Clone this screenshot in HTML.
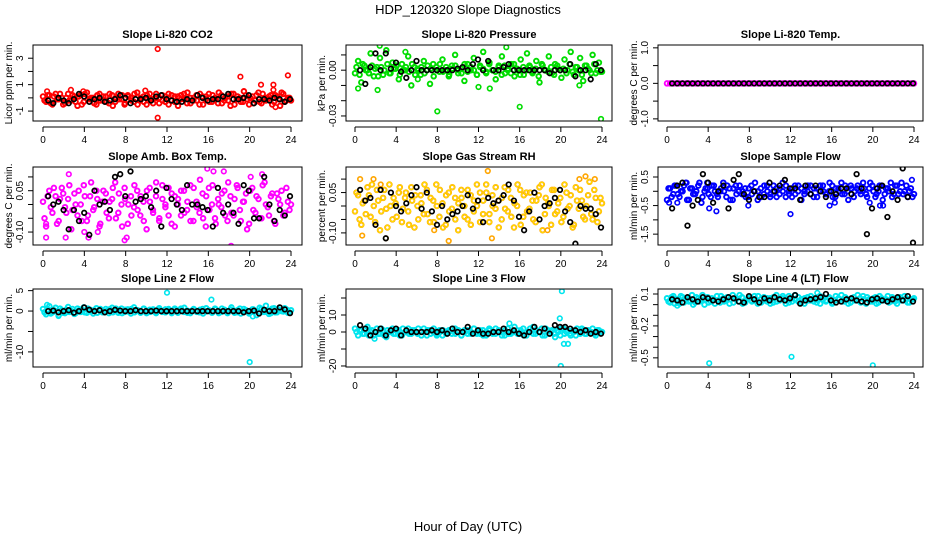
<!DOCTYPE html>
<html><head><meta charset="utf-8">
<style>
html,body{margin:0;padding:0;background:#fff;}
svg{display:block;font-family:"Liberation Sans",Arial,sans-serif;}
</style></head>
<body>
<svg id="chart" width="936" height="540" viewBox="0 0 936 540" xmlns="http://www.w3.org/2000/svg">
<text x="468" y="14" text-anchor="middle" font-size="13">HDP_120320  Slope Diagnostics</text>
<text x="468" y="531" text-anchor="middle" font-size="13">Hour of Day (UTC)</text>
</svg>
<script>
const xTicks=[0,4,8,12,16,20,24];
const co2Red=[0.1,-0.3,0.2,-0.5,0.3,-0.1,0.0,-0.4,0.3,-0.2,0.1,-0.6,0.2,-0.3,0.4,-0.1,0.0,-0.5,0.3,-0.2,0.1,-0.4,0.2,-0.3,0.3,-0.1,-0.5,0.2,0.0,-0.3,0.4,-0.2,0.1,-0.5,0.3,-0.1,0.0,-0.4,0.2,-0.3,0.3,-0.2,0.1,-0.6,0.2,-0.1,0.4,-0.4,0.0,-0.2,0.3,-0.5,0.1,-0.3,0.2,-0.1,0.4,-0.4,0.0,-0.2,0.3,-0.5,0.1,-0.3,0.5,-0.1,0.0,-0.4,0.2,-0.3,0.3,-0.2,0.1,-0.5,0.2,-0.1,0.4,-0.3,0.0,-0.2];
const co2Red2=[-0.2,0.2,-0.4,0.1,-0.1,0.3,-0.5,0.0,-0.2,0.2,-0.3,0.1,-0.5,0.3,-0.1,0.0,-0.4,0.2,-0.2,0.1,-0.3,0.3,-0.6,0.0,-0.1,0.2,-0.4,0.1,-0.2,0.3,-0.5,0.0,-0.3,0.2,-0.1,-0.4,0.3,0.0,-0.2,0.1,-0.5,0.2,-0.3,0.1,-0.1,0.3,-0.4,0.0,-0.2,0.2,-0.5,0.1,-0.1,0.3,-0.3,0.0,-0.4,0.2,-0.2,0.1,-0.6,0.3,-0.1,0.0,-0.3,0.2,-0.5,0.1,-0.2,0.4,-0.4,0.0,-0.1,0.2,-0.3,0.1,-0.6,0.3,-0.2,0.0];
const co2OutHours=[11.1,11.1,19.1,21.1,22.3,22.3,23.7,2.7,9.9,0.4,3.9,22.5];
const co2OutValues=[3.7,-1.5,1.6,1.0,1.0,0.6,1.7,0.6,0.55,0.5,0.5,-0.7];
const co2Black=[-0.2,-0.4,0.0,-0.2,-0.4,-0.1,0.3,0.1,-0.3,-0.1,0.0,-0.3,-0.2,-0.1,0.2,0.0,-0.4,-0.1,-0.1,0.0,-0.2,0.1,0.2,-0.1,-0.2,-0.3,-0.3,-0.1,-0.2,0.2,0.0,-0.2,-0.1,-0.1,0.1,0.3,-0.1,-0.1,0.0,0.2,-0.4,-0.1,-0.1,-0.2,0.0,-0.1,-0.3,-0.1];
const presGreen=[-0.002,0.006,-0.008,0.003,0.000,0.011,-0.004,0.002,0.008,-0.003,0.013,-0.002,0.005,0.001,-0.006,0.004,0.000,0.009,-0.010,0.002,0.001,-0.003,0.006,0.000,-0.009,0.004,0.002,-0.001,0.007,0.000,-0.004,0.003,0.010,-0.002,0.001,-0.007,0.004,0.000,0.008,-0.003,0.002,0.012,-0.001,0.005,0.000,-0.006,0.003,0.009,-0.002,0.001,0.004,-0.004,0.000,0.007,-0.003,0.011,0.002,-0.001,0.006,-0.008,0.003,0.000,0.009,-0.002,0.004,0.001,-0.005,0.007,0.000,0.012,-0.003,0.002,0.008,-0.007,0.003,0.000,0.010,-0.002,0.005,-0.001];
const presGreen2=[0.002,-0.003,0.004,0.000,-0.002,0.003,0.001,-0.004,0.002,0.000,0.004,-0.002,0.001,0.003,-0.003,0.000,0.002,-0.001,0.004,-0.003,0.000,0.002,-0.002,0.003,0.001,-0.004,0.000,0.004,-0.001,0.002,-0.003,0.001,0.003,0.000,-0.002,0.004,-0.001,0.002,0.000,-0.003,0.003,0.001,-0.002,0.004,0.000,-0.001,0.002,-0.003,0.003,0.000,-0.002,0.004,0.001,-0.003,0.002,0.000,0.003,-0.002,0.001,-0.004,0.004,0.000,-0.001,0.002,-0.003,0.003,0.000,0.001,-0.002,0.004,-0.001,0.002,0.000,-0.003,0.003,0.001,-0.002,0.004,0.000,-0.001];
const presOutHours=[8.0,16.0,23.9,2.2,0.3,14.7,2.4,4.9,21.8,6.1,12.0,13.1];
const presOutValues=[-0.027,-0.024,-0.032,-0.013,-0.012,0.015,0.016,0.012,-0.010,-0.006,-0.011,-0.012];
const presBlack=[0.000,-0.009,0.002,0.011,0.000,0.011,0.001,0.005,-0.001,-0.005,0.000,0.006,0.000,0.000,0.000,0.000,0.000,0.000,0.000,0.001,0.002,0.000,0.004,0.007,0.000,0.006,0.000,0.000,0.002,0.004,0.000,0.000,0.000,0.000,0.000,0.000,0.000,-0.002,0.000,0.000,0.000,0.004,-0.004,0.000,0.000,-0.006,0.004,0.000];
const tempMagenta=[0,0,0,0,0,0,0,0,0,0,0,0,0,0,0,0,0,0,0,0,0,0,0,0,0,0,0,0,0,0,0,0,0,0,0,0,0,0,0,0,0,0,0,0,0,0,0,0,0,0,0,0,0,0,0,0,0,0,0,0,0,0,0,0,0,0,0,0,0,0,0,0,0,0,0,0,0,0,0,0];
const tempBlack=[0,0,0,0,0,0,0,0,0,0,0,0,0,0,0,0,0,0,0,0,0,0,0,0,0,0,0,0,0,0,0,0,0,0,0,0,0,0,0,0,0,0,0,0,0,0,0,0];
const ambMagenta=[0.01,-0.08,0.05,-0.03,0.03,-0.06,0.06,-0.01,0.02,-0.09,0.04,-0.04,0.00,0.07,-0.06,0.03,-0.02,0.05,-0.08,0.01,0.04,-0.05,0.02,0.08,-0.03,0.00,0.06,-0.07,0.03,-0.01,0.05,-0.04,0.01,-0.09,0.06,-0.02,0.03,-0.06,0.07,0.00,-0.04,0.04,-0.08,0.02,0.05,-0.03,0.01,-0.06,0.06,-0.01,0.09,-0.05,0.03,-0.02,0.07,-0.07,0.00,0.04,-0.04,0.08,-0.03,0.02,0.06,-0.06,0.01,-0.09,0.05,-0.02,0.03,-0.05,0.07,0.00,-0.04,0.04,-0.07,0.02,0.05,-0.03,0.01,0.00];
const ambMagenta2=[-0.05,0.03,-0.01,0.06,-0.07,0.02,0.04,-0.03,0.07,-0.02,0.00,0.05,-0.06,0.03,-0.04,0.08,-0.01,0.02,-0.07,0.05,-0.03,0.01,0.06,-0.05,0.04,-0.08,0.02,0.00,-0.04,0.07,-0.02,0.03,-0.06,0.05,0.01,-0.03,0.08,-0.05,0.02,-0.01,0.06,-0.07,0.03,0.00,-0.04,0.05,-0.02,0.07,-0.06,0.01,-0.03,0.04,-0.08,0.06,0.00,-0.05,0.02,-0.01,0.05,-0.06,0.03,-0.04,0.07,-0.02,0.01,0.04,-0.07,0.06,-0.03,0.02,-0.05,0.08,-0.01,0.03,-0.06,0.04,0.00,-0.04,0.06,-0.02];
const ambOutHours=[0.3,2.5,4.4,0.3,2.2,7.9,8.1,15.9,16.5,17.5,18.2,21.2,20.1,4.0,5.3];
const ambOutValues=[-0.12,0.11,-0.12,-0.07,-0.12,-0.13,-0.12,0.13,0.12,0.12,-0.15,0.11,0.10,-0.10,-0.10];
const ambBlack=[0.03,0.00,0.01,-0.02,-0.09,-0.02,-0.06,-0.03,-0.11,0.05,0.00,0.01,-0.02,0.10,0.11,0.03,0.12,0.01,0.02,0.03,-0.01,0.05,-0.08,0.06,0.02,0.00,-0.02,0.07,0.00,0.00,-0.01,-0.02,-0.08,0.06,-0.03,0.00,-0.03,-0.07,0.07,0.05,-0.05,-0.05,0.10,0.00,-0.06,-0.02,-0.04,0.03];
const rhOrange=[-0.02,0.04,-0.07,0.02,0.07,-0.04,0.00,0.06,-0.09,0.03,-0.01,0.08,-0.05,0.01,0.05,-0.06,0.03,-0.02,0.07,-0.08,0.00,0.04,-0.03,0.06,-0.06,0.02,0.08,-0.04,0.01,-0.07,0.05,-0.01,0.03,-0.09,0.06,0.00,-0.05,0.04,-0.02,0.08,-0.06,0.02,0.05,-0.03,0.00,0.07,-0.08,0.03,-0.01,0.06,-0.04,0.01,0.08,-0.07,0.04,-0.02,0.05,-0.05,0.02,0.07,-0.09,0.03,0.00,0.06,-0.03,0.01,-0.06,0.08,-0.01,0.04,-0.07,0.02,0.06,-0.04,0.00,0.09,-0.05,0.03,-0.02,0.01];
const rhOrange2=[0.05,-0.05,0.01,-0.03,0.04,0.08,-0.06,0.02,-0.02,0.06,-0.08,0.00,0.03,-0.04,0.07,-0.01,0.05,-0.07,0.02,0.04,-0.05,0.01,0.08,-0.03,0.03,-0.06,0.00,0.06,-0.08,0.04,-0.02,0.07,-0.05,0.01,0.03,-0.04,0.06,-0.07,0.02,0.00,0.05,-0.03,0.08,-0.06,0.04,-0.01,0.02,-0.05,0.07,-0.02,0.03,-0.08,0.00,0.06,-0.04,0.05,-0.01,0.02,-0.06,0.04,0.08,-0.03,0.01,-0.07,0.06,-0.02,0.03,-0.04,0.05,0.00,-0.08,0.07,-0.01,0.02,-0.05,0.04,-0.03,0.06,-0.06,0.03];
const rhOutHours=[0.5,0.7,1.8,2.5,12.9,13.3,9.1,22.4,23.3,3.0,7.7,18.7,21.8];
const rhOutValues=[0.10,-0.11,0.10,0.08,0.13,-0.12,-0.13,0.11,0.10,-0.12,-0.09,-0.09,0.10];
const rhBlack=[0.06,0.02,0.03,-0.07,0.06,-0.12,0.05,0.00,-0.02,0.01,0.04,0.07,-0.01,0.05,-0.02,-0.07,0.00,-0.05,-0.03,-0.02,0.00,0.04,-0.01,0.02,-0.06,0.03,0.01,0.02,0.04,0.08,0.02,-0.04,-0.09,-0.02,0.05,-0.05,0.00,0.01,0.03,0.06,-0.02,-0.06,-0.14,0.00,-0.01,-0.01,-0.03,-0.08];
const flowBlue=[-0.3,0.1,-0.1,0.2,-0.2,0.0,0.3,-0.3,0.1,-0.1,0.2,-0.4,0.0,0.1,-0.2,0.2,-0.1,0.0,0.3,-0.2,0.1,-0.3,0.2,0.0,-0.1,0.1,-0.2,0.2,0.0,-0.3,0.1,-0.1,0.2,-0.2,0.0,0.1,-0.1,0.3,-0.2,0.0,0.1,-0.1,0.2,-0.3,0.0,0.2,-0.1,0.1,-0.2,0.2,0.0,-0.1,0.3,-0.2,0.1,0.0,-0.1,0.2,-0.3,0.1,0.0,0.2,-0.1,0.1,-0.2,0.3,0.0,-0.1,0.2,-0.3,0.1,0.0,-0.2,0.2,-0.1,0.3,0.0,-0.2,0.1,-0.1];
const flowBlue2=[0.1,-0.2,0.2,-0.1,0.0,0.2,-0.3,0.1,-0.1,0.0,0.3,-0.2,0.1,-0.1,0.2,0.0,-0.2,0.1,0.0,0.2,-0.3,0.1,-0.1,0.2,0.0,-0.2,0.1,-0.1,0.3,0.0,-0.2,0.2,0.0,-0.1,0.2,-0.2,0.1,0.0,0.2,-0.1,-0.2,0.2,0.0,0.1,-0.1,0.0,0.2,-0.2,0.1,0.0,0.2,-0.1,0.0,0.2,-0.2,0.1,0.3,-0.1,0.0,0.2,-0.2,0.1,0.0,0.3,-0.1,0.1,0.2,-0.2,0.0,0.2,-0.1,0.1,0.3,-0.1,0.2,0.0,-0.1,0.2,0.0,-0.2];
const flowOutHours=[1.0,1.9,4.1,4.8,7.9,12.0,15.8,16.3,19.7,20.7,21.0,0.2,23.8,3.9];
const flowOutValues=[-0.4,0.3,-0.6,-0.7,-0.5,-0.8,-0.5,-0.4,-0.4,-0.5,-0.5,-0.4,0.4,0.3];
const flowBlack=[-0.6,0.2,0.3,-1.2,-0.5,-0.3,0.6,0.3,-0.4,0.0,0.2,-0.6,0.4,0.6,-0.1,-0.3,0.0,-0.2,-0.2,0.3,0.0,0.2,0.4,0.1,0.1,-0.3,0.2,-0.1,0.2,0.0,-0.2,0.0,-0.1,0.1,0.1,-0.1,0.6,0.1,-1.5,-0.6,0.1,0.2,-0.9,0.0,-0.3,0.8,-0.2,-1.8];
const l2Cyan=[0.5,-0.8,1.2,-0.3,0.8,-1.0,0.2,-0.5,1.0,0.0,-0.7,0.6,-0.2,0.9,-0.4,0.3,-0.6,0.7,0.1,-0.3,0.5,-0.5,0.8,0.0,-0.4,0.6,-0.2,0.4,-0.6,0.9,0.1,-0.3,0.5,-0.5,0.3,0.0,-0.4,0.7,-0.2,0.4,0.1,-0.5,0.6,-0.3,0.2,0.8,-0.4,0.0,0.5,-0.2,0.3,-0.6,0.7,0.0,-0.3,0.4,-0.5,0.6,0.1,-0.2,0.9,-0.4,0.2,-0.6,0.5,0.0,-0.3,0.4,-1.0,0.8,-0.2,1.3,-0.7,0.6,-0.3,0.4,0.0,0.7,-0.4,0.2];
const l2Cyan2=[-0.3,0.4,-0.6,0.2,-0.1,0.6,-0.4,0.3,-0.2,0.5,-0.5,0.1,0.4,-0.3,0.6,-0.1,0.2,-0.4,0.5,-0.2,0.0,0.4,-0.3,0.6,0.1,-0.5,0.3,-0.1,0.5,-0.3,0.2,-0.4,0.6,0.0,-0.2,0.4,-0.5,0.2,0.0,-0.3,0.5,-0.1,0.3,-0.4,0.6,-0.2,0.1,-0.5,0.4,0.0,-0.3,0.5,-0.1,0.2,-0.4,0.6,0.0,-0.2,0.3,-0.5,0.4,0.1,-0.3,0.6,-0.1,0.2,-0.6,0.4,0.0,-0.4,0.5,-0.2,0.1,-0.5,0.7,-0.3,0.2,-0.1,0.4,-0.3];
const l2OutHours=[12.0,20.0,16.3,0.4,20.3,1.5];
const l2OutValues=[4.5,-12.5,2.8,1.5,-1.3,-1.2];
const l2Black=[0,0.1,-0.3,0,0.2,-0.4,0,0.9,0.3,0,0.2,-0.3,0,0.3,0.1,0,0,0.2,0,0,0,0.1,0,0,0,0,0,0,0,0,0,0,0,0,0,0,0,0,-0.3,0,0.1,-0.6,0.3,0,0,0.9,0.4,-0.5];
const l3Cyan=[2,-2,1,-1,3,0,-2,2,-1,1,-3,0,2,-1,1,-2,0,2,-1,1,-1,0,2,-2,1,0,-1,1,-2,0,1,-1,2,0,-2,1,-1,0,2,-1,1,-2,0,1,-1,2,0,-2,1,-1,0,3,-1,1,-2,0,2,-1,1,0,-2,2,-1,1,-3,0,2,-1,1,-2,0,2,-1,1,-1,0,2,-2,1,0];
const l3Cyan2=[0,1,-1,2,-2,1,0,-1,2,-2,1,0,-1,1,-2,2,0,-1,1,0,2,-2,0,1,-1,2,-2,0,1,-1,0,2,-1,1,-2,0,1,-1,2,0,-1,1,-2,2,0,-1,1,0,-2,2,-1,0,1,-1,2,-2,0,1,-1,0,2,-2,1,0,-1,1,-2,2,0,-1,1,-2,0,2,-1,1,0,-1,1,0];
const l3OutHours=[20.1,20.0,19.9,20.3,20.7,15.0,1.9,17.3];
const l3OutValues=[24,-20,8,-7,-7,5,-4,3];
const l3Black=[4,2,-2,0,2,-2,1,2,-2,1,0,0,0,0,1,0,1,-1,2,0,0,3,-1,1,-1,-1,0,0,2,0,1,-1,-2,0,3,0,2,-1,4,3,3,2,1,0,1,-1,0,-1];
const l4Cyan=[0.06,0.02,0.08,0.04,0.01,0.07,0.05,0.03,0.09,0.02,0.06,0.04,0.00,0.07,0.03,0.05,0.08,0.02,0.06,0.04,0.01,0.09,0.05,0.03,0.07,0.02,0.06,0.04,0.08,0.01,0.05,0.07,0.03,0.06,0.02,0.09,0.04,0.06,0.01,0.08,0.03,0.05,0.07,0.02,0.06,0.04,0.08,0.03,0.05,0.01,0.07,0.04,0.06,0.02,0.08,0.05,0.03,0.07,0.01,0.06,0.04,0.09,0.02,0.05,0.07,0.03,0.06,0.01,0.08,0.04,0.05,0.02,0.07,0.03,0.06,0.04,0.08,0.02,0.05,0.06];
const l4Cyan2=[0.03,0.07,0.01,0.05,0.08,0.02,0.06,0.04,0.00,0.07,0.03,0.09,0.05,0.02,0.06,0.01,0.04,0.08,0.03,0.07,0.05,0.02,0.06,0.09,0.01,0.04,0.07,0.03,0.05,0.08,0.02,0.04,0.06,0.01,0.07,0.03,0.05,0.08,0.04,0.02,0.06,0.09,0.03,0.05,0.01,0.07,0.04,0.06,0.02,0.08,0.05,0.03,0.07,0.01,0.04,0.06,0.09,0.03,0.05,0.02,0.07,0.04,0.06,0.08,0.01,0.05,0.03,0.07,0.02,0.06,0.04,0.08,0.03,0.05,0.01,0.07,0.04,0.06,0.02,0.05];
const l4OutHours=[4.1,12.1,20.0,14.6,1.0];
const l4OutValues=[-0.55,-0.49,-0.57,0.11,-0.01];
const l4Black=[0.05,0.04,0.02,0.07,0.05,0.03,0.07,0.06,0.04,0.03,0.05,0.07,0.06,0.03,0.02,0.08,0.05,0.02,0.06,0.04,0.07,0.05,0.04,0.06,0.09,0.01,0.04,0.05,0.06,0.07,0.10,0.04,0.02,0.03,0.05,0.06,0.04,0.03,0.02,0.05,0.06,0.04,0.03,0.05,0.07,0.04,0.08,0.03];

const NS='http://www.w3.org/2000/svg';
const svg=document.getElementById('chart');
function mk(tag,attrs,parent){const e=document.createElementNS(NS,tag);for(const k in attrs)e.setAttribute(k,attrs[k]);(parent||svg).appendChild(e);return e;}
const cols=[{l:33,r:302,x0:43,x1:291},{l:346,r:612,x0:355,x1:602},{l:658,r:923,x0:667,x1:914}];
const rows=[{t:45,b:121},{t:167,b:245},{t:289,b:367}];
const panels=[
 {key:'co2',title:'Slope Li-820 CO2',ylab:'Licor ppm per min.',c:0,r:0,ymin:-1.75,ymax:4.0,ticks:[-1,0,1,2,3],labels:['-1','','1','','3'],color:'#ff0000',dense:co2Red,dense2:co2Red2,oh:co2OutHours,ov:co2OutValues,blk:co2Black},
 {key:'pressure',title:'Slope Li-820 Pressure',ylab:'kPa per min.',c:1,r:0,ymin:-0.0333,ymax:0.0165,ticks:[0.01,0,-0.01,-0.02,-0.03],labels:['','0.00','','','-0.03'],color:'#00dd00',dense:presGreen,dense2:presGreen2,oh:presOutHours,ov:presOutValues,blk:presBlack},
 {key:'temp',title:'Slope Li-820 Temp.',ylab:'degrees C per min.',c:2,r:0,ymin:-1.06,ymax:1.08,ticks:[-1,-0.5,0,0.5,1],labels:['-1.0','','0.0','','1.0'],color:'#ff00ff',dense:tempMagenta,dense2:[],oh:[],ov:[],blk:tempBlack},
 {key:'amb-box',title:'Slope Amb. Box Temp.',ylab:'degrees C per min.',c:0,r:1,ymin:-0.147,ymax:0.136,ticks:[-0.1,-0.05,0,0.05,0.1],labels:['-0.10','','','0.05',''],color:'#ff00ff',dense:ambMagenta,dense2:ambMagenta2,oh:ambOutHours,ov:ambOutValues,blk:ambBlack},
 {key:'gas-rh',title:'Slope Gas Stream RH',ylab:'percent per min.',c:1,r:1,ymin:-0.145,ymax:0.145,ticks:[-0.1,-0.05,0,0.05,0.1],labels:['-0.10','','','0.05',''],color:'#ffa500',inner:'#ffee00',dense:rhOrange,dense2:rhOrange2,oh:rhOutHours,ov:rhOutValues,blk:rhBlack},
 {key:'sample-flow',title:'Slope Sample Flow',ylab:'ml/min per min.',c:2,r:1,ymin:-1.88,ymax:0.85,ticks:[-1.5,-1,-0.5,0,0.5],labels:['-1.5','','-0.5','','0.5'],color:'#0000ff',dense:flowBlue,dense2:flowBlue2,oh:flowOutHours,ov:flowOutValues,blk:flowBlack},
 {key:'line2-flow',title:'Slope Line 2 Flow',ylab:'ml/min per min.',c:0,r:2,ymin:-13.7,ymax:5.4,ticks:[-10,-5,0,5],labels:['-10','','0','5'],color:'#00e5ee',dense:l2Cyan,dense2:l2Cyan2,oh:l2OutHours,ov:l2OutValues,blk:l2Black},
 {key:'line3-flow',title:'Slope Line 3 Flow',ylab:'ml/min per min.',c:1,r:2,ymin:-20.6,ymax:25.3,ticks:[-20,-10,0,10,20],labels:['-20','','0','10',''],color:'#00e5ee',dense:l3Cyan,dense2:l3Cyan2,oh:l3OutHours,ov:l3OutValues,blk:l3Black},
 {key:'line4-flow',title:'Slope Line 4 (LT) Flow',ylab:'ml/min per min.',c:2,r:2,ymin:-0.586,ymax:0.147,ticks:[-0.5,-0.4,-0.3,-0.2,-0.1,0,0.1],labels:['-0.5','','','-0.2','','','0.1'],color:'#00e5ee',dense:l4Cyan,dense2:l4Cyan2,oh:l4OutHours,ov:l4OutValues,blk:l4Black}
];
function dot(g,x,y,color,w,name){
  const c=mk('circle',{cx:x.toFixed(1),cy:y.toFixed(1),r:2.3,fill:'none',stroke:color,'stroke-width':w},g);
  
  
  return c;
}
panels.forEach(p=>{
  const C=cols[p.c],R=rows[p.r];
  const xs=h=>C.x0+(h/24)*(C.x1-C.x0);
  const ys=v=>R.b-(v-p.ymin)/(p.ymax-p.ymin)*(R.b-R.t);
  const g=mk('g',{});
  
  
  const t=mk('text',{x:(C.l+C.r)/2,y:R.t-7,'text-anchor':'middle','font-size':11,'font-weight':'bold'},g);
  t.textContent=p.title;
  
  
  const yl=mk('text',{transform:`translate(${C.l-21},${(R.t+R.b)/2}) rotate(-90)`,'text-anchor':'middle','font-size':10},g);
  yl.textContent=p.ylab;
  
  
  const xa=mk('g',{},g);
  
  
  mk('line',{x1:xs(xTicks[0]),x2:xs(xTicks[xTicks.length-1]),y1:R.b+6,y2:R.b+6,stroke:'#000','stroke-width':1},xa);
  xTicks.forEach(v=>{
    mk('line',{x1:xs(v),x2:xs(v),y1:R.b+6,y2:R.b+11,stroke:'#000','stroke-width':1},xa);
    const tl=mk('text',{x:xs(v),y:R.b+22,'text-anchor':'middle','font-size':10},xa);
    tl.textContent=v;
    
    
  });
  const ya=mk('g',{},g);
  
  
  p.ticks.forEach((v,i)=>{
    mk('line',{x1:C.l-5,x2:C.l,y1:ys(v),y2:ys(v),stroke:'#000','stroke-width':1},ya);
    if(p.labels[i]){
      const tl=mk('text',{transform:`translate(${C.l-10},${ys(v)}) rotate(-90)`,'text-anchor':'middle','font-size':10},ya);
      tl.textContent=p.labels[i];
      
      
    }
  });
  const clipId='clip-'+p.key;
  const cp=mk('clipPath',{id:clipId},g);
  mk('rect',{x:C.l,y:R.t,width:C.r-C.l,height:R.b-R.t},cp);
  const pts=mk('g',{'clip-path':`url(#${clipId})`},g);
  const n=p.dense.length;
  p.dense.forEach((v,i)=>{const h=i*24/(n-1);dot(pts,xs(h),ys(v),p.color,1.9,'point-'+p.key);if(p.inner)dot(pts,xs(h),ys(v),p.inner,0.8,'point-'+p.key);});
  const n2=p.dense2.length;
  p.dense2.forEach((v,i)=>{const h=(i+0.5)*24/n2;dot(pts,xs(h),ys(v),p.color,1.9,'point-'+p.key);if(p.inner)dot(pts,xs(h),ys(v),p.inner,0.8,'point-'+p.key);});
  p.oh.forEach((h,i)=>{dot(pts,xs(h),ys(p.ov[i]),p.color,1.6,'outlier-'+p.key);});
  const m=p.blk.length;
  p.blk.forEach((v,i)=>{const h=0.5+i*23.4/(m-1);dot(pts,xs(h),ys(v),'#000',1.7,'black-point-'+p.key);});
  const box=mk('rect',{x:C.l,y:R.t,width:C.r-C.l,height:R.b-R.t,fill:'none',stroke:'#000','stroke-width':1},g);
  
  
});
</script>
</body></html>
